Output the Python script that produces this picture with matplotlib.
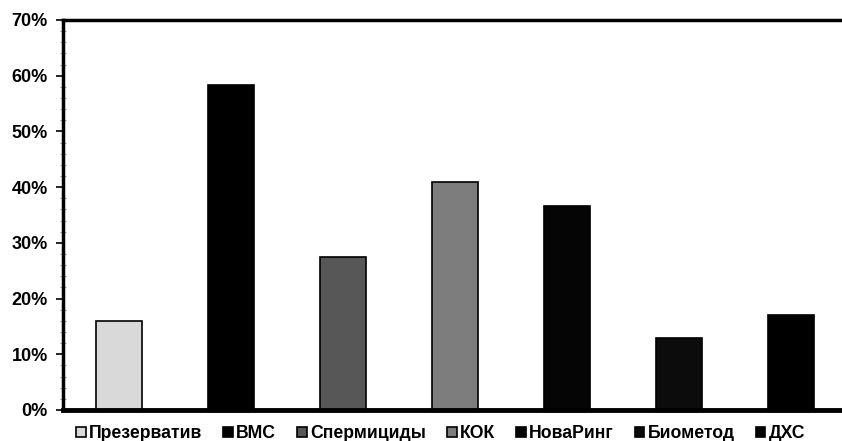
import matplotlib
matplotlib.use("Agg")
import matplotlib.pyplot as plt
from matplotlib.ticker import MultipleLocator, FuncFormatter

methods = ["Презерватив", "ВМС", "Спермициды", "КОК", "НоваРинг", "Биометод", "ДХС"]
values = [16, 58.3, 27.4, 41.0, 36.7, 13.0, 17.0]
colors = ["#d9d9d9", "#000000", "#575757", "#7d7d7d", "#050505", "#0c0c0c", "#000000"]

plt.rcParams['font.family'] = ['Liberation Sans', 'DejaVu Sans']

fig = plt.figure(figsize=(8.42, 4.41), dpi=100)
ax = fig.add_axes([63/842, 31/441, 784/842, 390/441])

for i, (m, v, c) in enumerate(zip(methods, values, colors)):
    ax.bar(i, v, width=0.41, color=c, edgecolor="black", linewidth=1.2, label=m)

ax.set_xlim(-0.5, len(methods) - 0.5)
ax.set_ylim(0, 70)
ax.yaxis.set_major_locator(MultipleLocator(10))
ax.yaxis.set_minor_locator(MultipleLocator(2))
ax.yaxis.set_major_formatter(FuncFormatter(lambda v, p: f"{int(v)}%"))
ax.set_xticks([])
for lbl in ax.get_yticklabels():
    lbl.set_fontweight("bold")
ax.tick_params(axis="y", which="major", length=5, width=1.2, labelsize=13, direction="out", pad=6)
ax.tick_params(axis="y", which="minor", length=4, width=0.8, color="#999999", direction="inout")

ax.spines["left"].set_linewidth(2.5)
ax.spines["top"].set_linewidth(2.5)
ax.spines["bottom"].set_linewidth(3.5)
ax.spines["right"].set_visible(False)

handles, labels = ax.get_legend_handles_labels()
leg = fig.legend(handles, labels, loc="lower left", bbox_to_anchor=(62/842, -0.035), ncol=7,
                 frameon=False, handlelength=0.55, handleheight=0.55, handletextpad=0.17,
                 columnspacing=1.2, borderpad=0.3, prop={"weight": "bold", "size": 12.7})

fig.savefig("out.png", dpi=100)
